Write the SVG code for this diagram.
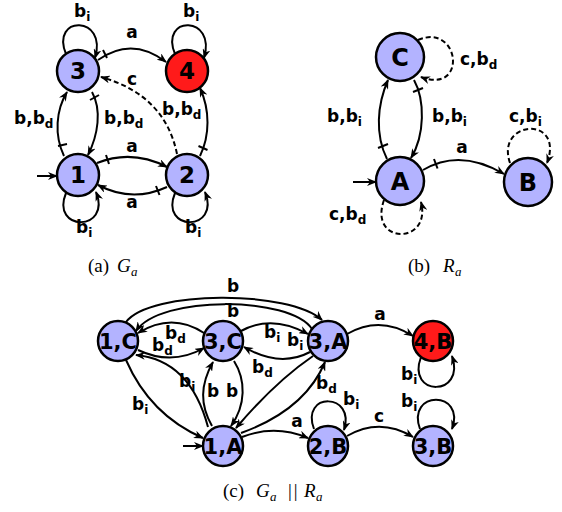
<svg xmlns="http://www.w3.org/2000/svg" width="562" height="512" viewBox="0 0 562 512">
<style>
.n{stroke:#000;stroke-width:2.5;fill:#b3b3ff}
.r{fill:#ff1a1a}
.nt{font-family:"DejaVu Sans",sans-serif;font-weight:bold;text-anchor:middle;fill:#000}
.e{fill:none;stroke:#000;stroke-width:2;marker-end:url(#ah)}
.d{stroke-dasharray:5,3}
.t{stroke:#000;stroke-width:2;fill:none}
.l{font-family:"DejaVu Sans",sans-serif;font-weight:bold;font-size:17px;fill:#000}
.s{font-size:12px}
.c{font-family:"Liberation Serif",serif;font-size:19px;fill:#000}
.ci{font-style:italic}
.cs{font-style:italic;font-size:13px}
</style>
<defs>
<marker id="ah" markerUnits="userSpaceOnUse" markerWidth="10" markerHeight="8" refX="9" refY="4" orient="auto">
<path d="M0,0 L10,4 L0,8 L3,4 z" fill="#000"/>
</marker>
</defs>

<g id="connectors">
<!-- (a) -->
<path class="e" d="M66,54 C50,15 108,15 95,58"/>
<path class="e" d="M175,54 C159,15 217,15 204,58"/>
<path class="e" d="M66,193 C50,232 112,232 96,192"/>
<path class="e" d="M175,193 C159,232 221,232 205,192"/>
<path class="e" d="M98,60 Q132,36 166,62"/>
<line class="t" x1="103" y1="50" x2="107" y2="58"/>
<path class="e" d="M64,156 C54,135 56,110 67,92"/>
<line class="t" x1="58" y1="146" x2="67" y2="144"/>
<path class="e" d="M92,92 C102,110 98,135 88,155"/>
<line class="t" x1="90" y1="100" x2="99" y2="95"/>
<path class="e" d="M97,163 Q132,149 167,167"/>
<line class="t" x1="106" y1="155" x2="109" y2="164"/>
<path class="e" d="M167,187 Q132,203 98,185"/>
<line class="t" x1="156" y1="186" x2="159.5" y2="195"/>
<path class="e" d="M200,156 C210,135 210,110 200,88"/>
<line class="t" x1="198.5" y1="146" x2="207.5" y2="150"/>
<path class="e d" d="M177,154 Q165,95 101,77"/>
<line class="e" x1="37" y1="176" x2="57" y2="176"/>
<!-- (b) -->
<path class="e d" d="M418,40 C460,22 468,95 421,77"/>
<path class="e" d="M387,159 C375,135 377,105 388,80"/>
<line class="t" x1="378" y1="148" x2="388" y2="144"/>
<path class="e" d="M414,80 C425,100 425,135 411,158"/>
<line class="t" x1="413" y1="92" x2="423" y2="88"/>
<path class="e" d="M423,170 Q460,148 504,174"/>
<line class="t" x1="434" y1="159" x2="437.5" y2="168.5"/>
<path class="e d" d="M510,163 C495,120 565,115 547,163"/>
<path class="e d" d="M384,200 C368,245 432,245 421,202"/>
<line class="e" x1="353" y1="182" x2="376" y2="182"/>
<!-- (c) -->
<path class="e" d="M126,322 C150,290 290,290 322,320"/>
<path class="e" d="M312,329 C290,296 160,295 136,331"/>
<path class="e" d="M204,333 Q172,312 138,333"/>
<path class="e" d="M138,350 Q172,366 204,348"/>
<path class="e" d="M241,331 Q272,314 308,334"/>
<path class="e" d="M310,352 Q280,368 244,347"/>
<path class="e" d="M126,360 Q150,415 203,438"/>
<path class="e" d="M208,427 Q190,360 136,355"/>
<path class="e" d="M212,426 C200,405 200,385 213,362"/>
<path class="e" d="M234,361 C246,380 246,405 231,426"/>
<path class="e" d="M313,356 Q275,382 236,428"/>
<path class="e" d="M241,433 Q305,410 325,362"/>
<path class="e" d="M242,437 Q275,424 308,438"/>
<path class="e" d="M314,429 C300,392 356,392 344,430"/>
<path class="e" d="M347,436 Q380,417 413,437"/>
<path class="e" d="M420,429 C406,390 466,390 452,429"/>
<path class="e" d="M347,334 Q380,315 413,336"/>
<path class="e" d="M421,357 C406,397 466,397 452,356"/>
<line class="e" x1="183" y1="446" x2="203" y2="446"/>
</g>

<g id="edge-labels">
<!-- (a) -->
<text class="l" x="74" y="17">b<tspan class="s" dy="4">i</tspan></text>
<text class="l" x="183" y="17">b<tspan class="s" dy="4">i</tspan></text>
<text class="l" x="76" y="233">b<tspan class="s" dy="4">i</tspan></text>
<text class="l" x="185" y="233">b<tspan class="s" dy="4">i</tspan></text>
<text class="l" x="132" y="38" text-anchor="middle">a</text>
<text class="l" x="14" y="124">b,b<tspan class="s" dy="4">d</tspan></text>
<text class="l" x="104" y="124">b,b<tspan class="s" dy="4">d</tspan></text>
<text class="l" x="132" y="152" text-anchor="middle">a</text>
<text class="l" x="132" y="208" text-anchor="middle">a</text>
<text class="l" x="162" y="115">b,b<tspan class="s" dy="4">d</tspan></text>
<text class="l" x="132" y="85" text-anchor="middle">c</text>
<!-- (b) -->
<text class="l" x="460" y="65">c,b<tspan class="s" dy="4">d</tspan></text>
<text class="l" x="327" y="122">b,b<tspan class="s" dy="4">i</tspan></text>
<text class="l" x="432" y="122">b,b<tspan class="s" dy="4">i</tspan></text>
<text class="l" x="509" y="122">c,b<tspan class="s" dy="4">i</tspan></text>
<text class="l" x="462" y="153" text-anchor="middle">a</text>
<text class="l" x="329" y="220">c,b<tspan class="s" dy="4">d</tspan></text>
<!-- (c) -->
<text class="l" x="233" y="292" text-anchor="middle">b</text>
<text class="l" x="233" y="317" text-anchor="middle">b</text>
<text class="l" x="165" y="339">b<tspan class="s" dy="4">d</tspan></text>
<text class="l" x="152" y="351">b<tspan class="s" dy="4">d</tspan></text>
<text class="l" x="264" y="338">b<tspan class="s" dy="4">i</tspan></text>
<text class="l" x="287" y="346">b<tspan class="s" dy="4">i</tspan></text>
<text class="l" x="132" y="410">b<tspan class="s" dy="4">i</tspan></text>
<text class="l" x="179" y="387">b<tspan class="s" dy="4">i</tspan></text>
<text class="l" x="213" y="397" text-anchor="middle">b</text>
<text class="l" x="232" y="397" text-anchor="middle">b</text>
<text class="l" x="252" y="373">b<tspan class="s" dy="4">d</tspan></text>
<text class="l" x="316" y="389">b<tspan class="s" dy="4">d</tspan></text>
<text class="l" x="297" y="427" text-anchor="middle">a</text>
<text class="l" x="343" y="405">b<tspan class="s" dy="4">i</tspan></text>
<text class="l" x="379" y="422" text-anchor="middle">c</text>
<text class="l" x="401" y="407">b<tspan class="s" dy="4">i</tspan></text>
<text class="l" x="380" y="320" text-anchor="middle">a</text>
<text class="l" x="401" y="380">b<tspan class="s" dy="4">i</tspan></text>
</g>

<!-- (a) nodes -->
<g id="a-3"><circle class="n" cx="78" cy="71" r="21"/><text class="nt" x="78" y="79" font-size="23">3</text></g>
<g id="a-4"><circle class="n r" cx="187" cy="71" r="21"/><text class="nt" x="187" y="79" font-size="23">4</text></g>
<g id="a-1"><circle class="n" cx="78" cy="175" r="21"/><text class="nt" x="78" y="183" font-size="23">1</text></g>
<g id="a-2"><circle class="n" cx="187" cy="175" r="21"/><text class="nt" x="187" y="183" font-size="23">2</text></g>
<!-- (b) nodes -->
<g id="b-C"><circle class="n" cx="400" cy="57" r="24"/><text class="nt" x="400" y="66" font-size="24">C</text></g>
<g id="b-A"><circle class="n" cx="400" cy="181" r="24"/><text class="nt" x="400" y="190" font-size="24">A</text></g>
<g id="b-B"><circle class="n" cx="528" cy="182" r="24"/><text class="nt" x="528" y="191" font-size="24">B</text></g>
<!-- (c) nodes -->
<g id="c-1C"><circle class="n" cx="118" cy="341" r="20"/><text class="nt" x="118" y="348.5" font-size="21">1,C</text></g>
<g id="c-3C"><circle class="n" cx="223" cy="341" r="20"/><text class="nt" x="223" y="348.5" font-size="21">3,C</text></g>
<g id="c-3A"><circle class="n" cx="328" cy="341" r="20"/><text class="nt" x="328" y="348.5" font-size="21">3,A</text></g>
<g id="c-4B"><circle class="n r" cx="433" cy="341" r="20"/><text class="nt" x="433" y="348.5" font-size="21">4,B</text></g>
<g id="c-1A"><circle class="n" cx="223" cy="446" r="20"/><text class="nt" x="223" y="453.5" font-size="21">1,A</text></g>
<g id="c-2B"><circle class="n" cx="328" cy="446" r="20"/><text class="nt" x="328" y="453.5" font-size="21">2,B</text></g>
<g id="c-3B"><circle class="n" cx="433" cy="446" r="20"/><text class="nt" x="433" y="453.5" font-size="21">3,B</text></g>

<g id="captions">
<text class="c" x="88" y="272">(a)</text><text class="c ci" x="117" y="272">G</text><text class="c cs" x="131" y="276">a</text>
<text class="c" x="408" y="272">(b)</text><text class="c ci" x="443" y="272">R</text><text class="c cs" x="455" y="276">a</text>
<text class="c" x="223" y="497">(c)</text><text class="c ci" x="256" y="497">G</text><text class="c cs" x="270" y="501">a</text><text class="c" x="288" y="497" letter-spacing="2">||</text><text class="c ci" x="304" y="497">R</text><text class="c cs" x="316" y="501">a</text>
</g>
</svg>
